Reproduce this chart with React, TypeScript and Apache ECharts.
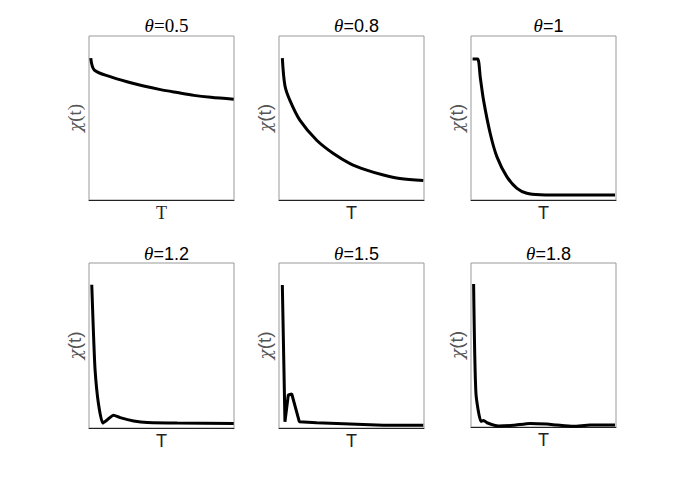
import React, { useEffect, useRef } from "react";
import * as echarts from "echarts";

const thetaLabels = ["0.5", "0.8", "1", "1.2", "1.5", "1.8"];
const xLabel = "T";
const yLabelChi = "χ";
const yLabelArg = "(t)";

const t1 = [1.2, 3.7, 14.6, 26.2, 37.7, 49.3, 60.9, 72.4, 84.0, 99.8];
const v1 = [0.865, 0.792, 0.752, 0.721, 0.695, 0.673, 0.655, 0.638, 0.626, 0.614];

const t2 = [2.3, 4.1, 7.6, 14.5, 26.0, 37.5, 49.0, 60.5, 72.0, 83.4, 99.5];
const v2 = [0.865, 0.697, 0.606, 0.485, 0.364, 0.283, 0.222, 0.182, 0.152, 0.131, 0.119];

const t3 = [1.1, 4.6, 6.4, 8.7, 13.3, 17.9, 24.8, 31.7, 38.5, 47.7, 70.6, 99.3];
const v3 = [0.859, 0.859, 0.747, 0.606, 0.404, 0.263, 0.141, 0.071, 0.041, 0.032, 0.03, 0.03];

const t4 = [1.9, 3.0, 4.2, 6.5, 9.5, 12.3, 16.9, 21.5, 30.8, 40.1, 60.9, 99.8];
const v4 = [0.868, 0.594, 0.351, 0.148, 0.03, 0.047, 0.078, 0.063, 0.043, 0.033, 0.03, 0.027];

const t5 = [2.3, 4.1, 6.4, 8.8, 14.0, 26.0, 49.0, 71.9, 99.5];
const v5 = [0.867, 0.038, 0.2, 0.206, 0.038, 0.032, 0.024, 0.016, 0.016];

const t6 = [1.8, 3.4, 6.9, 8.7, 11.0, 19.0, 29.3, 40.8, 52.3, 59.2, 70.6, 82.1, 99.3];
const v6 = [0.872, 0.207, 0.034, 0.04, 0.026, 0.006, 0.01, 0.022, 0.018, 0.012, 0.004, 0.012, 0.012];

const tSeries = [t1, t2, t3, t4, t5, t6];
const vSeries = [v1, v2, v3, v4, v5, v6];
const smoothing = [0.3, 0.3, 0.25, 0.2, 0, 0.2];

const grids = [
  { left: 89, top: 36, width: 145, height: 164 },
  { left: 279, top: 36, width: 145, height: 164 },
  { left: 471, top: 36, width: 145, height: 164 },
  { left: 89, top: 263, width: 145, height: 165 },
  { left: 279, top: 263, width: 145, height: 165 },
  { left: 471, top: 263, width: 145, height: 164 },
];

export default function App() {
  const ref = useRef<HTMLDivElement>(null);
  useEffect(() => {
    if (!ref.current) return;
    const chart = echarts.init(ref.current, undefined, { renderer: "svg" });
    const serif = "Liberation Serif";
    const sans = "Liberation Sans";
    const option: any = {
      animation: false,
      backgroundColor: "#ffffff",
      title: grids.map((g, i) => ({
        text: `{th|θ}{n|=${thetaLabels[i]}}`,
        left: g.left + g.width / 2,
        top: g.top - (i < 3 ? 25 : 24),
        textAlign: "center",
        textStyle: {
          fontWeight: "normal",
          rich: {
            th: { fontFamily: serif, fontStyle: "italic", fontWeight: "normal", fontSize: 19, color: "#000" },
            n: { fontFamily: i === 0 ? serif : sans, fontWeight: "normal", fontSize: i === 0 ? 19 : 18, color: "#000" },
          },
        },
      })),
      grid: grids.map((g) => ({
        left: g.left,
        top: g.top,
        width: g.width,
        height: g.height,
        show: true,
        borderColor: "#999999",
        borderWidth: 1,
        backgroundColor: "transparent",
      })),
      xAxis: grids.map((g, i) => ({
        type: "value",
        gridIndex: i,
        min: 0,
        max: 100,
        name: xLabel,
        nameLocation: "middle",
        nameGap: 4,
        nameTextStyle: { fontFamily: i === 0 ? serif : sans, fontSize: 18, color: "#222" },
        axisLine: { show: true, lineStyle: { color: "#222", width: 1 } },
        axisTick: { show: false },
        axisLabel: { show: false },
        splitLine: { show: false },
      })),
      yAxis: grids.map((g, i) => ({
        type: "value",
        gridIndex: i,
        min: 0,
        max: 1,
        name: `{c|${yLabelChi}}{p|${yLabelArg}}`,
        nameLocation: "middle",
        nameGap: 5,
        nameRotate: 90,
        nameTextStyle: {
          color: "#555",
          rich: {
            c: { fontFamily: "DejaVu Serif", fontStyle: "italic", fontSize: 17, color: "#555" },
            p: { fontFamily: i === 0 ? serif : sans, fontSize: 19, color: "#555" },
          },
        },
        axisLine: { show: false },
        axisTick: { show: false },
        axisLabel: { show: false },
        splitLine: { show: false },
      })),
      series: tSeries.map((ts, i) => ({
        type: "line",
        xAxisIndex: i,
        yAxisIndex: i,
        data: ts.map((t, k) => [t, vSeries[i][k]]),
        showSymbol: false,
        smooth: smoothing[i],
        clip: false,
        lineStyle: { color: "#000", width: 3 },
      })),
    };
    chart.setOption(option);
    return () => chart.dispose();
  }, []);
  return (
    <div
      ref={ref}
      style={{ position: "fixed", left: 0, top: 0, width: 681, height: 480, background: "#fff" }}
    />
  );
}
